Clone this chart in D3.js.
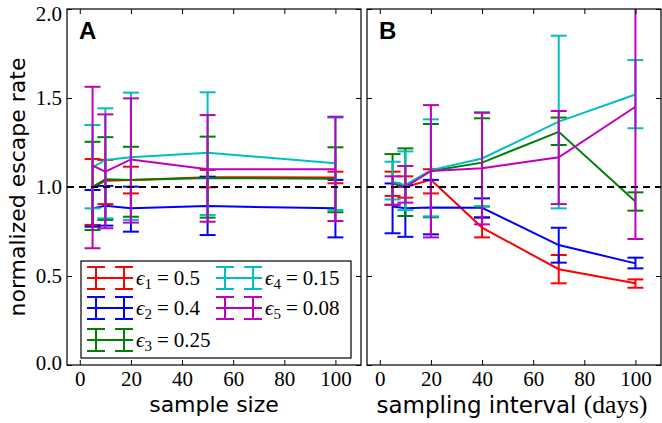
<!DOCTYPE html>
<html>
<head>
<meta charset="utf-8">
<script src="https://cdn.jsdelivr.net/npm/d3@7"></script>
<style>
  html, body { margin: 0; padding: 0; background: #fff; }
  svg { display: block; }
</style>
</head>
<body>
<div id="chart"></div>
<script>
// ---------- data ----------
const seriesColors = ["#ff0000", "#0000ff", "#007f00", "#00bfbf", "#bf00bf"];
const legendSubs = ["1", "2", "3", "4", "5"];
const legendValues = ["0.5", "0.4", "0.25", "0.15", "0.08"];

// Panel A: sample size
const xValuesA = [5, 10, 20, 50, 100];
const meanA = [
  [1.00, 1.035, 1.04, 1.055, 1.054],
  [0.88, 0.895, 0.88, 0.893, 0.88],
  [1.00, 1.043, 1.04, 1.05, 1.047],
  [1.11, 1.152, 1.167, 1.193, 1.133],
  [1.12, 1.086, 1.155, 1.10, 1.10]
];
const lowA = [
  [0.787, 0.904, 0.964, 0.998, 1.021],
  [0.777, 0.783, 0.749, 0.73, 0.717],
  [0.758, 0.815, 0.833, 0.828, 0.858],
  [0.88, 0.824, 0.815, 0.843, 0.871],
  [0.656, 0.768, 0.80, 0.805, 0.809]
];
const highA = [
  [1.157, 1.152, 1.114, 1.096, 1.086],
  [0.983, 1.006, 1.002, 1.058, 1.04],
  [1.254, 1.28, 1.226, 1.283, 1.223],
  [1.348, 1.442, 1.53, 1.532, 1.39],
  [1.563, 1.408, 1.498, 1.404, 1.395]
];

// Panel B: sampling interval (days)
const xValuesB = [5, 10, 20, 40, 70, 100];
const meanB = [
  [1.02, 1.00, 1.04, 0.772, 0.538, 0.459],
  [0.89, 0.88, 0.885, 0.883, 0.674, 0.571],
  [1.02, 1.01, 1.09, 1.137, 1.31, 0.918],
  [1.03, 1.01, 1.095, 1.16, 1.367, 1.52],
  [1.00, 1.00, 1.09, 1.105, 1.167, 1.451]
];
const lowB = [
  [0.95, 0.94, 0.964, 0.717, 0.459, 0.434],
  [0.74, 0.72, 0.734, 0.828, 0.575, 0.543],
  [0.90, 0.837, 0.83, 0.89, 1.236, 0.867],
  [0.93, 0.87, 0.835, 0.893, 0.88, 1.33],
  [0.90, 0.912, 0.717, 0.79, 0.904, 0.708]
];
const highB = [
  [1.086, 1.06, 1.10, 0.83, 0.618, 0.481],
  [1.02, 1.01, 1.04, 0.936, 0.771, 0.603],
  [1.185, 1.217, 1.354, 1.386, 1.39, 0.97],
  [1.142, 1.20, 1.38, 1.42, 1.85, 1.713],
  [1.06, 1.118, 1.46, 1.417, 1.427, 2.2]
];

const xTicks = [0, 20, 40, 60, 80, 100];
const yTicks = [0.0, 0.5, 1.0, 1.5, 2.0];

// ---------- layout ----------
const W = 662, H = 423;
const plotTop = 9, plotBottom = 365;
const panels = [
  { id: "A", left: 67, right: 361, xs: xValuesA, mean: meanA, low: lowA, high: highA, showY: true },
  { id: "B", left: 367, right: 661, xs: xValuesB, mean: meanB, low: lowB, high: highB, showY: false }
];

const serif = "'Liberation Serif', 'DejaVu Serif', serif";
const sans = "'DejaVu Sans', 'Liberation Sans', sans-serif";

const svg = d3.select("#chart").append("svg")
  .attr("width", W).attr("height", H);

const y = d3.scaleLinear().domain([0, 2]).range([plotBottom, plotTop]);
const capHalf = 8;

panels.forEach((p) => {
  const x = d3.scaleLinear().domain([-5, 110]).range([p.left, p.right]);
  const g = svg.append("g");
  const clipId = "clip" + p.id;
  svg.append("clipPath").attr("id", clipId).append("rect")
    .attr("x", p.left).attr("y", plotTop).attr("width", p.right - p.left).attr("height", plotBottom - plotTop);

  const plot = g.append("g").attr("clip-path", `url(#${clipId})`);

  p.mean.forEach((vals, si) => {
    const color = seriesColors[si];
    const sg = plot.append("g");
    const pts = p.xs.map((xv, i) => ({ x: xv, m: vals[i], lo: p.low[si][i], hi: p.high[si][i] }));
    sg.append("path")
      .datum(pts)
      .attr("fill", "none").attr("stroke", color).attr("stroke-width", 2)
      .attr("d", d3.line().x(d => x(d.x)).y(d => y(d.m)));
    const eb = sg.selectAll("g.eb").data(pts).enter().append("g")
      .attr("stroke", color).attr("stroke-width", 2);
    eb.append("line")
      .attr("x1", d => x(d.x)).attr("x2", d => x(d.x))
      .attr("y1", d => y(d.lo)).attr("y2", d => y(d.hi));
    eb.append("line")
      .attr("x1", d => x(d.x) - capHalf).attr("x2", d => x(d.x) + capHalf)
      .attr("y1", d => y(d.lo)).attr("y2", d => y(d.lo));
    eb.append("line")
      .attr("x1", d => x(d.x) - capHalf).attr("x2", d => x(d.x) + capHalf)
      .attr("y1", d => y(d.hi)).attr("y2", d => y(d.hi));
  });

  // dashed reference line at 1.0
  plot.append("line")
    .attr("x1", p.left).attr("x2", p.right)
    .attr("y1", y(1)).attr("y2", y(1))
    .attr("stroke", "#000").attr("stroke-width", 2)
    .attr("stroke-dasharray", "7,5");

  // axes (inward ticks)
  const bAxis = d3.axisBottom(x).tickValues(xTicks).tickSize(-5).tickPadding(6).tickFormat(d3.format("d"));
  const tAxis = d3.axisTop(x).tickValues(xTicks).tickSize(-5).tickFormat("");
  const lAxis = d3.axisLeft(y).tickValues(yTicks).tickSize(-5).tickPadding(5)
    .tickFormat(p.showY ? d3.format(".1f") : "");
  const rAxis = d3.axisRight(y).tickValues(yTicks).tickSize(-5).tickFormat("");

  const gb = g.append("g").attr("transform", `translate(0,${plotBottom})`).call(bAxis);
  const gt = g.append("g").attr("transform", `translate(0,${plotTop})`).call(tAxis);
  const gl = g.append("g").attr("transform", `translate(${p.left},0)`).call(lAxis);
  const gr = g.append("g").attr("transform", `translate(${p.right},0)`).call(rAxis);
  [gb, gt, gl, gr].forEach(a => {
    a.select(".domain").remove();
    a.selectAll(".tick line").attr("stroke", "#000").attr("stroke-width", 1);
    a.selectAll("text").attr("font-family", serif).attr("font-size", 21).attr("fill", "#000");
  });
  gl.selectAll("text").attr("dy", d => d === 2 ? "0.55em" : (d === 0 ? "0.2em" : "0.33em"));

  // frame
  g.append("rect")
    .attr("x", p.left).attr("y", plotTop)
    .attr("width", p.right - p.left).attr("height", plotBottom - plotTop)
    .attr("fill", "none").attr("stroke", "#000").attr("stroke-width", 1.2);

  // panel letter
  g.append("text")
    .attr("x", p.left + 12).attr("y", 39)
    .attr("font-family", "'Liberation Sans', Arial, sans-serif")
    .attr("font-weight", "bold").attr("font-size", 24)
    .text(p.id);
});

// x axis labels
svg.append("text")
  .attr("x", 214).attr("y", 412).attr("text-anchor", "middle")
  .attr("font-family", sans).attr("font-size", 22)
  .text("sample size");

const lbB = svg.append("text")
  .attr("x", 512).attr("y", 413).attr("text-anchor", "middle")
  .attr("font-family", sans).attr("font-size", 23);
lbB.append("tspan").text("sampling interval ");
lbB.append("tspan").attr("font-family", serif).attr("font-size", 25.5).text("(days)");

// y axis label
svg.append("text")
  .attr("transform", `translate(25,${(plotTop + plotBottom) / 2}) rotate(-90)`)
  .attr("text-anchor", "middle")
  .attr("font-family", sans).attr("font-size", 22)
  .text("normalized escape rate");

// legend
const legend = svg.append("g");
legend.append("rect")
  .attr("x", 81).attr("y", 261).attr("width", 270).attr("height", 97)
  .attr("fill", "#fff").attr("stroke", "#000").attr("stroke-width", 1.2);

const legendPos = [
  { hx: 87, ty: 278 }, { hx: 87, ty: 308 }, { hx: 87, ty: 340 },
  { hx: 216, ty: 278 }, { hx: 216, ty: 308 }
];
seriesColors.forEach((c, i) => {
  const lp = legendPos[i];
  const lg = legend.append("g").attr("stroke", c).attr("stroke-width", 2);
  lg.append("line").attr("x1", lp.hx).attr("x2", lp.hx + 46).attr("y1", lp.ty).attr("y2", lp.ty);
  [lp.hx + 9, lp.hx + 37].forEach(cx => {
    lg.append("line").attr("x1", cx).attr("x2", cx).attr("y1", lp.ty - 11).attr("y2", lp.ty + 11);
    lg.append("line").attr("x1", cx - 9).attr("x2", cx + 9).attr("y1", lp.ty - 11).attr("y2", lp.ty - 11);
    lg.append("line").attr("x1", cx - 9).attr("x2", cx + 9).attr("y1", lp.ty + 11).attr("y2", lp.ty + 11);
  });
  const t = legend.append("text")
    .attr("x", lp.hx + 49).attr("y", lp.ty + 7)
    .attr("font-family", serif).attr("font-size", 21).attr("fill", "#000");
  t.append("tspan").attr("font-style", "italic").text("\u03F5");
  t.append("tspan").attr("font-size", 15).attr("dy", 4).text(legendSubs[i]);
  t.append("tspan").attr("dy", -4).attr("dx", 5).text("=");
  t.append("tspan").attr("dx", 5).text(legendValues[i]);
});
</script>
</body>
</html>
